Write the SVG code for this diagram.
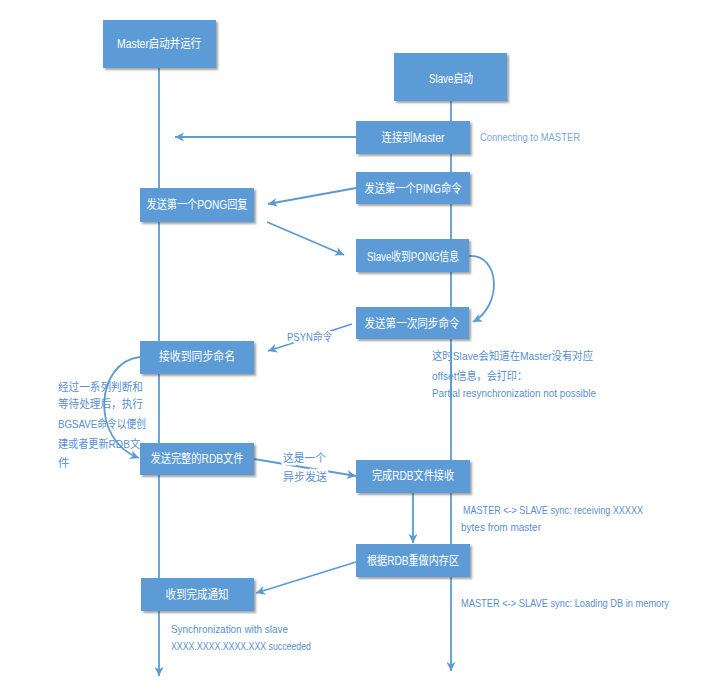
<svg xmlns="http://www.w3.org/2000/svg" width="708" height="692" viewBox="0 0 708 692">
<defs>
<style>
.box{fill:#5B9BD5;filter:url(#sh)}
.bt{fill:#fff;font-family:"Liberation Sans","Noto Sans CJK SC",sans-serif;font-size:12.5px;text-anchor:middle}
.ln{fill:none;stroke:#5B9BD5;stroke-width:1.8}
.ar{marker-end:url(#ah)}
.an{fill:#5A8FD0;font-family:"Liberation Sans","Noto Sans CJK SC",sans-serif;font-size:11.5px}
.halo{paint-order:stroke;stroke:#fff;stroke-width:5;stroke-linejoin:round}
</style>
<filter id="sh" x="-10%" y="-10%" width="125%" height="145%">
<feDropShadow dx="2" dy="2" stdDeviation="1.3" flood-color="#444" flood-opacity="0.5"/>
</filter>
<marker id="ah" markerUnits="userSpaceOnUse" markerWidth="10" markerHeight="10" refX="9" refY="4.5" orient="auto">
<path d="M0,0 L9,4.5 L0,9 L2.5,4.5 z" fill="#5B9BD5"/>
</marker>
</defs>
<rect width="708" height="692" fill="#fff"/>

<g id="connectors">
<path class="ln ar" d="M159,68 L159,676"/>
<path class="ln ar" d="M451,101 L451,671"/>
<path class="ln ar" d="M356,137 L175,137"/>
<path class="ln ar" d="M356,188 L268,204"/>
<path class="ln ar" d="M267,222 L344,255"/>
<path class="ln ar" d="M469,256 C500,254 503,305 473,322"/>
<path class="ln ar" d="M352,324 L268,351"/>
<path class="ln ar" d="M140,357 C95,362 90,440 139,458"/>
<path class="ln ar" d="M254,459 L356,476"/>
<path class="ln ar" d="M413,493 L413,543"/>
<path class="ln ar" d="M356,562 L256,593"/>
</g>

<g id="annotations">
<text class="an" x="480" y="141" textLength="100" lengthAdjust="spacingAndGlyphs" style="fill:#7BA7DD">Connecting to MASTER</text>
<text class="an halo" x="287" y="341" textLength="45" lengthAdjust="spacingAndGlyphs">PSYN命令</text>
<text class="an" x="58" y="391" textLength="85" lengthAdjust="spacingAndGlyphs">经过一系列判断和</text>
<text class="an" x="58" y="408" textLength="85" lengthAdjust="spacingAndGlyphs">等待处理后，执行</text>
<text class="an" x="58" y="428" textLength="88" lengthAdjust="spacingAndGlyphs">BGSAVE命令以便创</text>
<text class="an" x="58" y="448" textLength="82" lengthAdjust="spacingAndGlyphs">建或者更新RDB文</text>
<text class="an" x="58" y="467">件</text>
<text class="an halo" x="283" y="462" textLength="43" lengthAdjust="spacingAndGlyphs">这是一个</text>
<text class="an halo" x="283" y="481" textLength="44" lengthAdjust="spacingAndGlyphs">异步发送</text>
<text class="an" x="463" y="514" textLength="180" lengthAdjust="spacingAndGlyphs">MASTER &lt;-&gt; SLAVE sync: receiving XXXXX</text>
<text class="an" x="461" y="531" textLength="80" lengthAdjust="spacingAndGlyphs">bytes from master</text>
<text class="an" x="461" y="607" textLength="208" lengthAdjust="spacingAndGlyphs" style="font-size:11px">MASTER &lt;-&gt; SLAVE sync: Loading DB in memory</text>
<text class="an" x="171" y="633" textLength="117" lengthAdjust="spacingAndGlyphs">Synchronization with slave</text>
<text class="an" x="171" y="650" textLength="140" lengthAdjust="spacingAndGlyphs">XXXX.XXXX.XXXX.XXX succeeded</text>
</g>

<g id="note-psync">
<text class="an" x="432" y="360" textLength="161" lengthAdjust="spacingAndGlyphs">这时Slave会知道在Master没有对应</text>
<text class="an" x="432" y="380" textLength="95" lengthAdjust="spacingAndGlyphs">offset信息，会打印：</text>
<text class="an" x="432" y="397" textLength="164" lengthAdjust="spacingAndGlyphs">Partial resynchronization not possible</text>
<path class="ln" d="M451,345 L451,400"/>
</g>

<g id="master-start"><rect class="box" x="103" y="20" width="113" height="48"/><text class="bt" x="159" y="48" textLength="84" lengthAdjust="spacingAndGlyphs">Master启动并运行</text></g>
<g id="slave-start"><rect class="box" x="394" y="53" width="113" height="48"/><text class="bt" x="451" y="83" textLength="44" lengthAdjust="spacingAndGlyphs">Slave启动</text></g>
<g id="connect-master"><rect class="box" x="356" y="121" width="114" height="33"/><text class="bt" x="413" y="142" textLength="63" lengthAdjust="spacingAndGlyphs">连接到Master</text></g>
<g id="send-ping"><rect class="box" x="356" y="172" width="114" height="32"/><text class="bt" x="413" y="193" textLength="97" lengthAdjust="spacingAndGlyphs">发送第一个PING命令</text></g>
<g id="send-pong"><rect class="box" x="140" y="188" width="114" height="34"/><text class="bt" x="197" y="209" textLength="101" lengthAdjust="spacingAndGlyphs">发送第一个PONG回复</text></g>
<g id="recv-pong"><rect class="box" x="356" y="239" width="113" height="33"/><text class="bt" x="413" y="261" textLength="92" lengthAdjust="spacingAndGlyphs">Slave收到PONG信息</text></g>
<g id="send-sync"><rect class="box" x="356" y="307" width="113" height="32"/><text class="bt" x="412" y="328" textLength="95" lengthAdjust="spacingAndGlyphs">发送第一次同步命令</text></g>
<g id="recv-sync"><rect class="box" x="140" y="341" width="114" height="33"/><text class="bt" x="197" y="361" textLength="76" lengthAdjust="spacingAndGlyphs">接收到同步命名</text></g>
<g id="send-rdb"><rect class="box" x="140" y="443" width="114" height="32"/><text class="bt" x="197" y="463" textLength="93" lengthAdjust="spacingAndGlyphs">发送完整的RDB文件</text></g>
<g id="recv-rdb"><rect class="box" x="356" y="460" width="114" height="33"/><text class="bt" x="413" y="480" textLength="82" lengthAdjust="spacingAndGlyphs">完成RDB文件接收</text></g>
<g id="load-rdb"><rect class="box" x="356" y="544" width="114" height="33"/><text class="bt" x="413" y="565" textLength="92" lengthAdjust="spacingAndGlyphs">根据RDB重做内存区</text></g>
<g id="done-notify"><rect class="box" x="141" y="578" width="113" height="33"/><text class="bt" x="197" y="599" textLength="63" lengthAdjust="spacingAndGlyphs">收到完成通知</text></g>
</svg>
